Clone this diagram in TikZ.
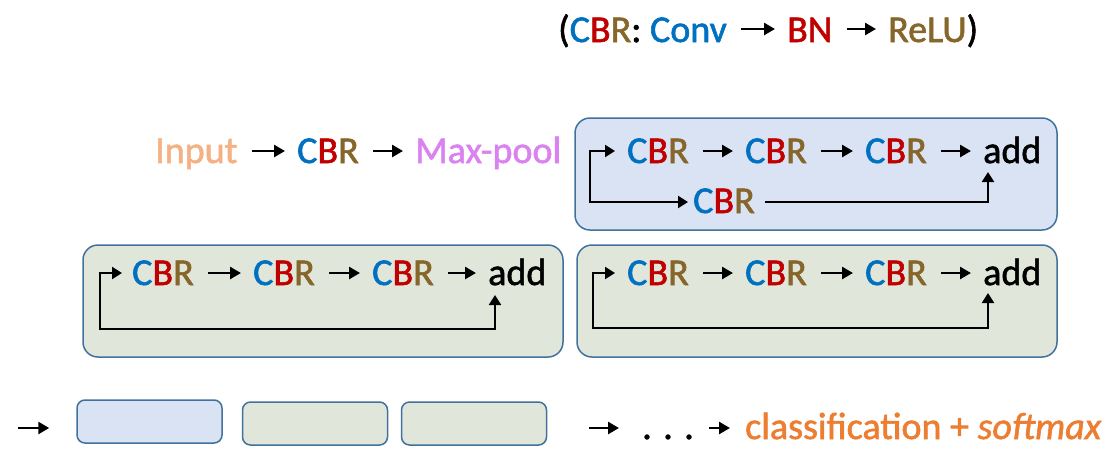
\documentclass[tikz,border=0pt]{standalone}
\usepackage{fontspec}
\setmainfont{Carlito}[UprightFeatures={FakeBold=1.5},ItalicFeatures={FakeBold=1.5}]
\usetikzlibrary{arrows.meta}
\definecolor{cblue}{HTML}{0070C0}
\definecolor{cred}{HTML}{C00000}
\definecolor{cbrown}{HTML}{86662A}
\definecolor{cinput}{HTML}{F4B183}
\definecolor{cpool}{HTML}{DA83F0}
\definecolor{corange}{HTML}{ED7D31}
\definecolor{bfill}{HTML}{DAE3F3}
\definecolor{gfill}{HTML}{E0E7DA}
\definecolor{bdraw}{HTML}{41719C}
\newcommand{\CBR}{{\color{cblue}C}{\color{cred}B}{\color{cbrown}R}}
\begin{document}
\begin{tikzpicture}[x=1pt,y=-1pt,
  txt/.style={anchor=base west,inner sep=0pt,font=\fontsize{38}{46}\selectfont},
  arr/.style={line width=2.6pt,-{Triangle[length=11pt,width=12pt]}},
  skip/.style={line width=2.2pt,-{Triangle[length=10pt,width=12pt]}},
  harr/.style={arr,shorten <=14pt,shorten >=12pt},
  blk/.style={draw=bdraw,line width=1.5pt,rounded corners=15pt},
  mini/.style={draw=bdraw,line width=1.5pt,rounded corners=8pt,minimum width=145pt,minimum height=43pt,inner sep=0pt},
]
\useasboundingbox (0,0) rectangle (1119,456);

% boxes
\draw[blk,fill=bfill] (575,118) rectangle (1057,230);
\draw[blk,fill=gfill] (83,245) rectangle (563,357);
\draw[blk,fill=gfill] (577,245) rectangle (1057,357);

% title
\node[txt] (t1) at (558,42) {(\CBR: {\color{cblue}Conv}};
\node[txt] (t2) at (787,42) {\color{cred}BN};
\node[txt] (t3) at (888,42) {{\color{cbrown}ReLU})};
\draw[harr] ([yshift=13pt]t1.base east) -- ([yshift=13pt]t2.base west);
\draw[harr] ([yshift=13pt]t2.base east) -- ([yshift=13pt]t3.base west);

% row 1
\node[txt] (in) at (155,163) {\color{cinput}Input};
\node[txt] (c0) at (297,163) {\CBR};
\node[txt] (mp) at (415,163) {\color{cpool}Max-pool};
\draw[harr] ([yshift=12pt]in.base east) -- ([yshift=12pt]c0.base west);
\draw[harr] ([yshift=12pt]c0.base east) -- ([yshift=12pt]mp.base west);

% blue block
\node[txt] (b1) at (627,163) {\CBR};
\node[txt] (b2) at (745,163) {\CBR};
\node[txt] (b3) at (865,163) {\CBR};
\node[txt] (ba) at (983,163) {add};
\node[txt] (bb) at (693,213) {\CBR};
\draw[harr] ([yshift=12pt]b1.base east) -- ([yshift=12pt]b2.base west);
\draw[harr] ([yshift=12pt]b2.base east) -- ([yshift=12pt]b3.base west);
\draw[harr] ([yshift=12pt]b3.base east) -- ([yshift=12pt]ba.base west);
\coordinate (bs) at (590,151);
\draw[skip,shorten >=12pt] (bs) -- (bs -| b1.west);
\draw[skip,shorten >=5pt] ([yshift=1pt]bs) |- ([yshift=11pt]bb.base west);
\draw[skip,shorten <=10pt] ([yshift=11pt]bb.base east) -| ([xshift=5pt,yshift=-9pt]ba.base west);

% green block left
\node[txt] (g1) at (132,285) {\CBR};
\node[txt] (g2) at (253,285) {\CBR};
\node[txt] (g3) at (372,285) {\CBR};
\node[txt] (ga) at (488,285) {add};
\draw[harr] ([yshift=12pt]g1.base east) -- ([yshift=12pt]g2.base west);
\draw[harr] ([yshift=12pt]g2.base east) -- ([yshift=12pt]g3.base west);
\draw[harr] ([yshift=12pt]g3.base east) -- ([yshift=12pt]ga.base west);
\coordinate (gs) at (100,273);
\coordinate (gl) at (100,329);
\draw[skip,shorten >=10pt] (gs) -- (gs -| g1.west);
\draw[skip] ([yshift=1pt]gs) -- (gl) -| ([xshift=7pt,yshift=-10pt]ga.base west);

% green block right
\node[txt] (h1) at (627,285) {\CBR};
\node[txt] (h2) at (745,285) {\CBR};
\node[txt] (h3) at (865,285) {\CBR};
\node[txt] (ha) at (983,285) {add};
\draw[harr] ([yshift=12pt]h1.base east) -- ([yshift=12pt]h2.base west);
\draw[harr] ([yshift=12pt]h2.base east) -- ([yshift=12pt]h3.base west);
\draw[harr] ([yshift=12pt]h3.base east) -- ([yshift=12pt]ha.base west);
\coordinate (hs) at (593,273);
\coordinate (hl) at (593,328);
\draw[skip,shorten >=12pt] (hs) -- (hs -| h1.west);
\draw[skip] ([yshift=1pt]hs) -- (hl) -| ([xshift=5pt,yshift=-8pt]ha.base west);

% bottom row
\node[mini,fill=bfill] (m1) at (149.5,421.5) {};
\node[mini,fill=gfill] (m2) at (315,423.5) {};
\node[mini,fill=gfill] (m3) at (474,423.5) {};
\coordinate (bl) at (18,428);
\draw[arr,shorten >=27pt] (bl) -- (bl -| m1.west);
\node[txt] (dots) at (642,439) {. . .};
\node[txt] (cls) at (745,439) {\color{corange}classification + \textit{softmax}};
\coordinate (br) at (589,428);
\draw[arr,shorten >=23pt] (br) -- (br -| dots.west);
\draw[harr,shorten <=15pt,shorten >=15pt] ([yshift=11pt]dots.base east) -- ([yshift=11pt]cls.base west);
\end{tikzpicture}
\end{document}
